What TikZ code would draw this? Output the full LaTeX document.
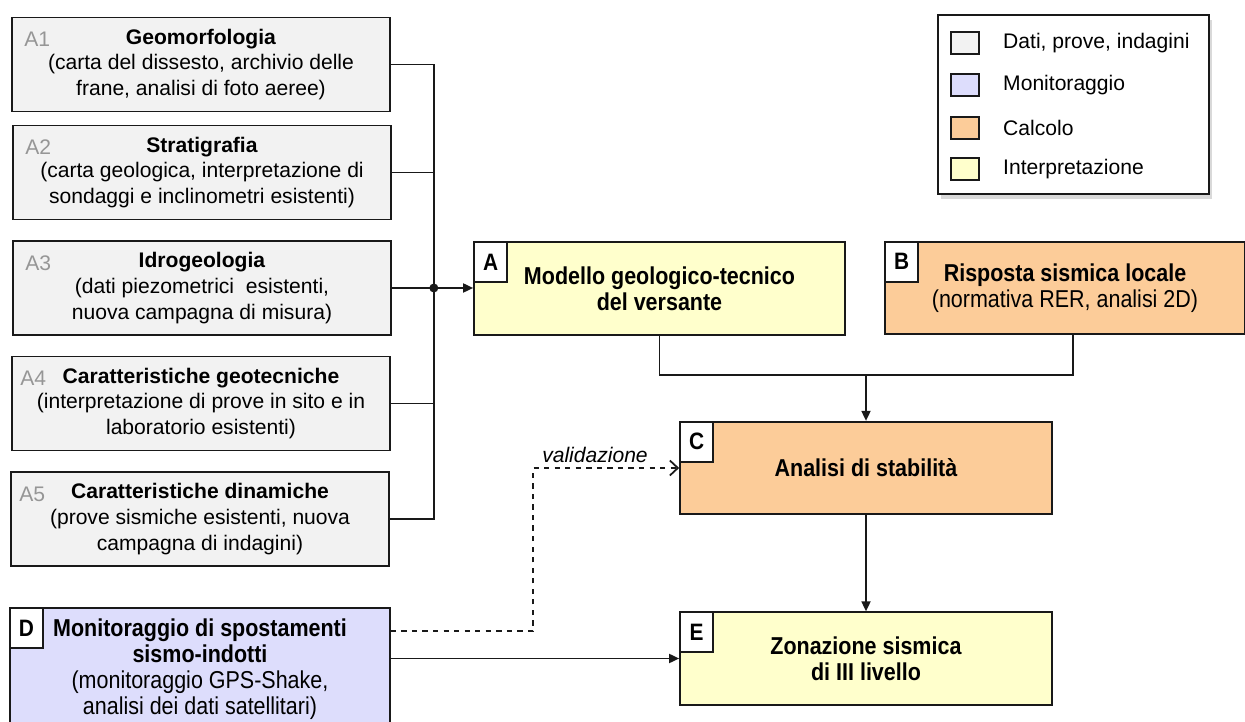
\documentclass[tikz,border=0pt]{standalone}
\usepackage{fontspec}
\setmainfont{Liberation Sans}
\newfontfamily\narrowfont{Liberation Sans}[FakeStretch=0.88]
\usetikzlibrary{arrows.meta,shadows}

\definecolor{datagray}{RGB}{242,242,242}
\definecolor{monlilac}{RGB}{221,221,252}
\definecolor{calcorange}{RGB}{252,204,153}
\definecolor{interpyellow}{RGB}{255,255,204}
\definecolor{tagtext}{RGB}{150,150,150}
\definecolor{boxline}{RGB}{25,25,25}

\tikzset{
  databox/.style={draw=boxline, line width=1pt, fill=datagray, minimum width=7.56cm,
    minimum height=1.88cm, align=center, font=\fontsize{12}{14.7}\selectfont},
  mainbox/.style={draw=boxline, line width=1pt, minimum height=1.85cm, align=center,
    font=\narrowfont\fontsize{13.9}{14.7}\selectfont},
  atag/.style={text=tagtext, font=\fontsize{12}{14}\selectfont},
  lettertag/.style={draw=boxline, line width=1pt, fill=white, anchor=north west,
    minimum width=0.66cm, minimum height=0.8cm, inner sep=0pt,
    font=\narrowfont\bfseries\fontsize{13.5}{14}\selectfont},
  swatch/.style={draw=boxline, line width=1pt, minimum width=0.56cm, minimum height=0.44cm},
  legtext/.style={anchor=west, font=\fontsize{12}{14}\selectfont},
  conn/.style={line width=1pt, draw=boxline},
  tip/.style={-{Triangle[length=0.2cm,width=0.18cm]}}
}

\begin{document}
\begin{tikzpicture}[x=0.02cm, y=-0.02cm]
\useasboundingbox (0,0) rectangle (1245,722);

% data, prove, indagini
\node[databox] (a1) at (201,64.5) {\textbf{Geomorfologia}\\(carta del dissesto, archivio delle\\frane, analisi di foto aeree)};
\node[databox] (a2) at (202,172.5) {\textbf{Stratigrafia}\\(carta geologica, interpretazione di\\sondaggi e inclinometri esistenti)};
\node[databox] (a3) at (202,288) {\textbf{Idrogeologia}\\(dati piezometrici\ \ esistenti,\\nuova campagna di misura)};
\node[databox] (a4) at (201,403.5) {\textbf{Caratteristiche geotecniche}\\(interpretazione di prove in sito e in\\laboratorio esistenti)};
\node[databox] (a5) at (200,519) {\textbf{Caratteristiche dinamiche}\\(prove sismiche esistenti, nuova\\campagna di indagini)};
\node[atag] (a1tag) at ([xshift=0.52cm,yshift=-0.46cm]a1.north west) {A1};
\node[atag] (a2tag) at ([xshift=0.52cm,yshift=-0.46cm]a2.north west) {A2};
\node[atag] (a3tag) at ([xshift=0.52cm,yshift=-0.46cm]a3.north west) {A3};
\node[atag] (a4tag) at ([xshift=0.44cm,yshift=-0.46cm]a4.north west) {A4};
\node[atag] (a5tag) at ([xshift=0.44cm,yshift=-0.46cm]a5.north west) {A5};

% main steps
\node[mainbox, fill=interpyellow, minimum width=7.42cm] (ma) at (659.5,288.5) {\textbf{Modello geologico-tecnico}\\\textbf{del versante}};
\node[mainbox, fill=calcorange, minimum width=7.2cm] (mb) at (1065,288) {\textbf{Risposta sismica locale}\\(normativa RER, analisi 2D)};
\node[mainbox, fill=calcorange, minimum width=7.44cm] (mc) at (866,468) {\textbf{Analisi di stabilità}};
\node[mainbox, fill=interpyellow, minimum width=7.44cm] (me) at (866,658.5) {\textbf{Zonazione sismica}\\\textbf{di III livello}};
\node[mainbox, fill=monlilac, minimum width=7.6cm, minimum height=2.44cm] (md) at (200,669) {\textbf{Monitoraggio di spostamenti}\\\textbf{sismo-indotti}\\(monitoraggio GPS-Shake,\\analisi dei dati satellitari)};
\node[lettertag] (tagA) at (ma.north west) {A};
\node[lettertag] (tagB) at (mb.north west) {B};
\node[lettertag] (tagC) at (mc.north west) {C};
\node[lettertag] (tagE) at (me.north west) {E};
\node[lettertag] (tagD) at (md.north west) {D};

% legenda
\node[draw=boxline, line width=1pt, fill=white, anchor=north west, minimum width=5.42cm, minimum height=3.58cm,
  drop shadow={shadow xshift=0.06cm, shadow yshift=-0.1cm, opacity=0.3}] (legend) at (937,14) {};
\node[swatch, fill=datagray] (sw1) at (965,43) {};
\node[swatch, fill=monlilac] (sw2) at (965,85) {};
\node[swatch, fill=calcorange] (sw3) at (965,128) {};
\node[swatch, fill=interpyellow] (sw4) at (965,169) {};
\node[legtext] (lt1) at (997,43) {Dati, prove, indagini};
\node[legtext] (lt2) at (997,85) {Monitoraggio};
\node[legtext] (lt3) at (997,128) {Calcolo};
\node[legtext] (lt4) at (997,169) {Interpretazione};

% collegamenti
\coordinate (bus) at ([xshift=0.84cm]a3.east);
\draw[conn] (a1.east) -| (bus);
\draw[conn] (a2.east) -| (bus);
\draw[conn] (a4.east) -| (bus);
\draw[conn] (a5.east) -| (bus);
\draw[conn] (a3.east) -- (bus);
\fill[boxline] (bus) circle (0.09cm);
\draw[conn, tip] (bus) -- (bus -| ma.west);

\coordinate (merge) at (866,375);
\draw[conn] (ma.south) |- (merge) -| ([xshift=0.16cm]mb.south);
\draw[conn, tip] (merge) -- (mc.north);
\draw[conn, tip] (mc.south) -- (me.north);
\draw[conn, tip] (md.east |- me.west) -- (me.west);

\coordinate (valbend) at (533,468);
\draw[conn, dashed, -{Straight Barb[length=0.16cm,width=0.3cm]}] ([yshift=0.76cm]md.east) -| (valbend) -- (mc.west);
\node[font=\itshape\fontsize{12}{14}\selectfont] (valtext) at (595,455) {validazione};
\end{tikzpicture}
\end{document}
